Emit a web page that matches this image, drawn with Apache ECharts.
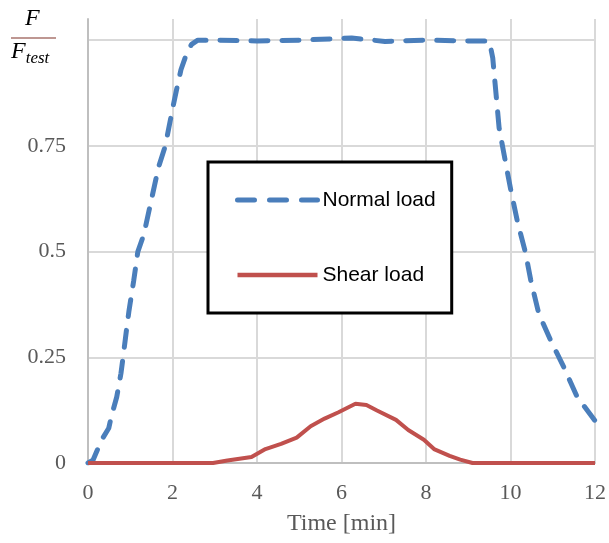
<!DOCTYPE html>
<html>
<head>
<meta charset="utf-8">
<script src="https://cdn.jsdelivr.net/npm/echarts@6/dist/echarts.min.js"></script>
<style>
  html, body { margin: 0; padding: 0; background: #fff; }
  #main { width: 609px; height: 543px; }
</style>
</head>
<body>
<div id="main"></div>
<script>
// time [min] and F/Ftest
var normalTime = [0, 0.12, 0.32, 0.49, 0.56, 0.68, 0.78, 0.83, 0.91, 0.97, 1.08, 1.18, 1.32, 1.48, 1.67, 1.83, 2.0, 2.09, 2.2, 2.33, 2.45, 2.6, 3.0, 4.0, 5.0, 6.24, 7.03, 8.0, 9.0, 9.5, 9.58, 9.73, 9.89, 10.01, 10.16, 10.36, 10.48, 10.67, 10.95, 11.26, 11.58, 12.0];
var normalLoad = [0, 0.007, 0.054, 0.082, 0.113, 0.156, 0.212, 0.25, 0.314, 0.36, 0.43, 0.5, 0.54, 0.613, 0.70, 0.75, 0.837, 0.88, 0.93, 0.967, 0.99, 1.0, 1.0, 0.998, 1.0, 1.005, 0.997, 1.0, 0.998, 0.998, 0.958, 0.793, 0.707, 0.644, 0.573, 0.495, 0.432, 0.353, 0.29, 0.227, 0.156, 0.1];

var shearTime = [0, 2.96, 3.3, 3.87, 4.2, 4.57, 4.94, 5.27, 5.6, 5.93, 6.33, 6.59, 6.84, 7.29, 7.58, 7.95, 8.19, 8.56, 8.81, 9.1, 12];
var shearLoad = [0, 0, 0.006, 0.014, 0.033, 0.045, 0.06, 0.087, 0.105, 0.12, 0.14, 0.137, 0.124, 0.102, 0.078, 0.055, 0.033, 0.017, 0.008, 0, 0];

var seriesNames = ['Normal load', 'Shear load'];
var xTicks = [0, 2, 4, 6, 8, 10, 12];
var yTicks = [0, 0.25, 0.5, 0.75];

function pairs(xs, ys) {
  return xs.map(function (x, i) { return [x, ys[i]]; });
}

var chart = echarts.init(document.getElementById('main'));
var serif = '"Liberation Serif", "DejaVu Serif", serif';
var blue = '#4a7ebb';
var red = '#c0504d';

var option = {
  backgroundColor: '#fff',
  animation: false,
  grid: { left: 88, right: 11, top: 19, bottom: 80 },
  xAxis: {
    type: 'value',
    min: xTicks[0],
    max: xTicks[xTicks.length - 1],
    interval: 2,
    name: 'Time [min]',
    nameLocation: 'middle',
    nameGap: 49,
    nameTextStyle: { fontFamily: serif, fontSize: 24, color: '#595959' },
    axisLine: { show: true, lineStyle: { color: '#bfbfbf', width: 2 } },
    axisTick: { show: false },
    axisLabel: { fontFamily: serif, fontSize: 22, color: '#595959', margin: 19 },
    splitLine: { show: true, lineStyle: { color: '#d9d9d9', width: 2 } }
  },
  yAxis: {
    type: 'value',
    min: 0,
    max: 1.05,
    interval: 0.25,
    axisLine: { show: true, lineStyle: { color: '#bfbfbf', width: 2 } },
    axisTick: { show: false },
    axisLabel: {
      fontFamily: serif, fontSize: 22, color: '#595959', margin: 22,
      formatter: function (v) {
        return yTicks.indexOf(v) >= 0 ? String(v) : '';
      }
    },
    splitLine: { show: true, showMaxLine: false, lineStyle: { color: '#d9d9d9', width: 2 } }
  },
  legend: {
    data: [
      { name: seriesNames[0], lineStyle: { color: blue, width: 5, type: [17, 15] } },
      { name: seriesNames[1], lineStyle: { color: red, width: 4.5 } }
    ],
    orient: 'vertical',
    left: 208,
    top: 162,
    padding: [26, 16, 26, 27],
    itemGap: 51,
    itemWidth: 80,
    itemHeight: 14,
    borderColor: '#000',
    borderWidth: 3,
    backgroundColor: '#fff',
    itemStyle: { opacity: 0 },
    textStyle: { fontFamily: '"Liberation Sans", Arial, sans-serif', fontSize: 21, color: '#000', lineHeight: 24 }
  },
  series: [
    {
      name: seriesNames[0],
      type: 'line',
      data: pairs(normalTime, normalLoad),
      symbol: 'none',
      lineStyle: { color: blue, width: 5, type: [17, 14], cap: 'round' },
      itemStyle: { color: blue },
      z: 3
    },
    {
      name: seriesNames[1],
      type: 'line',
      data: pairs(shearTime, shearLoad),
      symbol: 'none',
      lineStyle: { color: red, width: 4 },
      itemStyle: { color: red },
      z: 4
    }
  ],
  graphic: [
    { type: 'text', left: 25, top: 7, style: { text: 'F', font: 'italic 24px ' + serif, fill: '#000' } },
    { type: 'line', shape: { x1: 11, y1: 38, x2: 56, y2: 38 }, style: { stroke: '#a9746e', lineWidth: 1.5 } },
    { type: 'text', left: 11, top: 40, style: {
        text: '{a|F}{b|test}',
        rich: {
          a: { font: 'italic 24px ' + serif, fill: '#000', verticalAlign: 'top' },
          b: { font: 'italic 17px ' + serif, fill: '#000', padding: [10, 0, 0, 0] }
        }
    } }
  ]
};

chart.setOption(option);
</script>
</body>
</html>
